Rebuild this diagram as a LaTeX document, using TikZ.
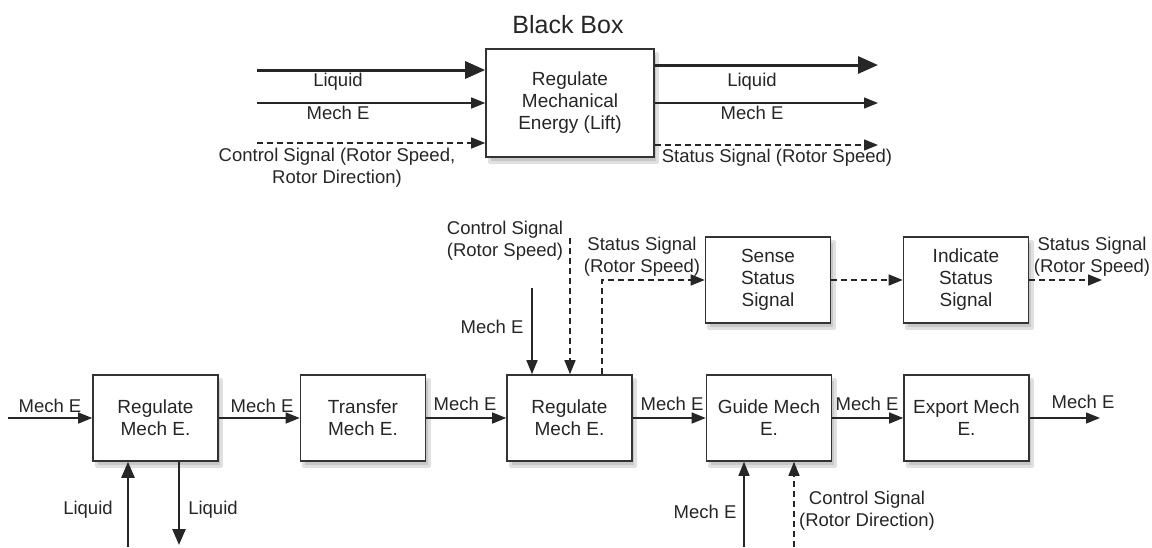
\documentclass[tikz,border=0pt]{standalone}
\usepackage{fontspec}
\setmainfont{Liberation Sans}
\usetikzlibrary{arrows.meta,calc,backgrounds}
\begin{document}
\begin{tikzpicture}[x=1pt,y=-1pt,
 box/.style={draw=black!80, line width=1.6pt, fill=white, minimum width=125pt, minimum height=86pt, align=center, font=\fontsize{19}{22}\selectfont, text=black!85, inner sep=2pt},
 shadowbox/.style={fill=black!22, draw=black!12, line width=3pt, line join=round},
 lbl/.style={font=\fontsize{18.5}{22}\selectfont, align=center, inner sep=0pt, text=black!85},
 flow/.style={line width=1.4pt, draw=black!85, -{Triangle[length=14pt,width=11pt]}},
 thickflow/.style={line width=3pt, draw=black!85, -{Triangle[length=20pt,width=17pt]}},
 midflow/.style={line width=2.6pt, draw=black!85, -{Triangle[length=16pt,width=13pt]}},
 sig/.style={line width=1.4pt, draw=black!85, dash pattern=on 6pt off 4pt, -{Triangle[length=14pt,width=11pt]}}]
\useasboundingbox (0,0) rectangle (1152,547);

% ---- Black box ----
\node[font=\fontsize{25}{30}\selectfont, text=black!85] (title) at (568,25) {Black Box};
\node[box, minimum width=168pt, minimum height=108pt] (bb) at (570,103) {Regulate\\Mechanical\\Energy (Lift)};
\coordinate (liqin) at (257,70);
\coordinate (mein) at (257,103);
\coordinate (csin) at (257,143);
\coordinate (liqout) at (878,65);
\coordinate (meout) at (878,103);
\coordinate (ssout) at (878,145);
\draw[thickflow] (liqin) -- (liqin -| bb.west);
\draw[flow] (mein) -- (mein -| bb.west);
\draw[sig] (csin) -- (csin -| bb.west);
\draw[thickflow] (liqout -| bb.east) -- (liqout);
\draw[flow] (meout -| bb.east) -- (meout);
\draw[sig] (ssout -| bb.east) -- (ssout);
\node[lbl] (tl1) at (338,82) {Liquid};
\node[lbl] (tl2) at (338,113) {Mech E};
\node[lbl] (tl3) at (337,168) {Control Signal (Rotor Speed,\\Rotor Direction)};
\node[lbl] (tl4) at (752,82) {Liquid};
\node[lbl] (tl5) at (752,113) {Mech E};
\node[lbl] (tl6) at (777,158) {Status Signal (Rotor Speed)};

% ---- Decomposition ----
\node[box] (r1) at (155.5,418) {Regulate\\Mech E.};
\node[box] (tr) at (363,418) {Transfer\\Mech E.};
\node[box] (r2) at (569.5,418) {Regulate\\Mech E.};
\node[box] (gd) at (769,418) {Guide Mech\\E.};
\node[box] (ex) at (966.5,418) {Export Mech\\E.};
\node[box] (se) at (768,280) {Sense\\Status\\Signal};
\node[box] (ind) at (966,280) {Indicate\\Status\\Signal};

% shadows
\begin{scope}[on background layer]
\foreach \n in {bb,r1,tr,r2,gd,ex,se,ind}
  \draw[shadowbox] ($(\n.north west)+(4,5)$) rectangle ($(\n.south east)+(3,5)$);
\end{scope}

\coordinate (mi) at (8,418);
\coordinate (mo) at (1100,418);
\draw[flow] (mi) -- (r1.west);
\draw[flow] (r1.east) -- (tr.west);
\draw[flow] (tr.east) -- (r2.west);
\draw[flow] (r2.east) -- (gd.west);
\draw[flow] (gd.east) -- (ex.west);
\draw[flow] (ex.east) -- (mo);
\node[lbl] (m1) at (50,406) {Mech E};
\node[lbl] (m2) at (262,406) {Mech E};
\node[lbl] (m3) at (465,404) {Mech E};
\node[lbl] (m4) at (672,404) {Mech E};
\node[lbl] (m5) at (867,404) {Mech E};
\node[lbl] (m6) at (1083,402) {Mech E};

% liquid in/out
\coordinate (lu) at (128,547);
\coordinate (ld) at (179,545);
\draw[midflow] (lu) -- (lu |- r1.south);
\draw[midflow] (ld |- r1.south) -- (ld);
\node[lbl] (lq1) at (88,510) {Liquid};
\node[lbl] (lq2) at (213,510) {Liquid};

% inputs to regulate 2
\coordinate (me3) at (532,288);
\coordinate (cs3) at (570,238);
\draw[flow] (me3) -- (me3 |- r2.north);
\draw[sig] (cs3) -- (cs3 |- r2.north);
\node[lbl] (cs3l) at (505,241) {Control Signal\\(Rotor Speed)};
\node[lbl] (me3l) at (492,327) {Mech E};

% status signal
\coordinate (st) at (602,280);
\draw[sig] (st |- r2.north) -- (st) -- (se.west);
\node[lbl] (stl) at (642,257) {Status Signal\\(Rotor Speed)};
\draw[sig] (se.east) -- (ind.west);
\coordinate (so) at (1102,280);
\draw[sig] (ind.east) -- (so);
\node[lbl] (sol) at (1092,257) {Status Signal\\(Rotor Speed)};

% inputs to guide
\coordinate (gm) at (744,547);
\coordinate (gc) at (794,547);
\draw[flow] (gm) -- (gm |- gd.south);
\draw[sig] (gc) -- (gc |- gd.south);
\node[lbl] (gml) at (705,512) {Mech E};
\node[lbl] (gcl) at (867,511) {Control Signal\\(Rotor Direction)};
\end{tikzpicture}
\end{document}
